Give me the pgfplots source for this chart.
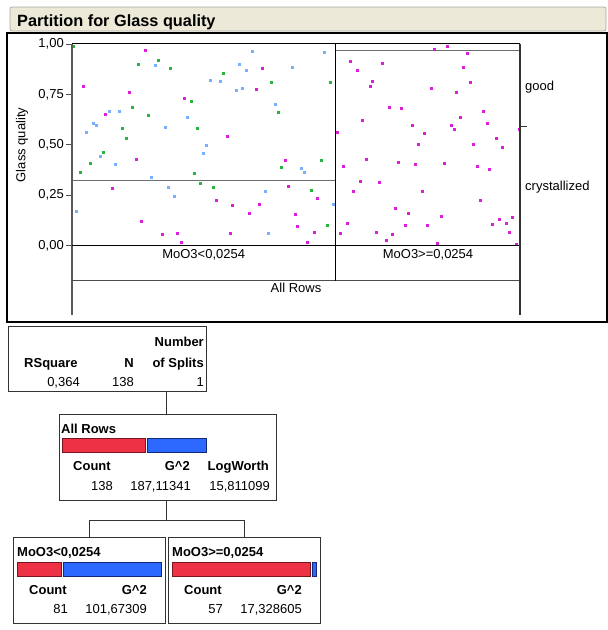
\documentclass[border=0pt]{standalone}
\usepackage{fontspec}
\setmainfont{Liberation Sans}
\usepackage{pgfplots}
\pgfplotsset{compat=1.18}
\definecolor{gm}{RGB}{40,180,60}
\definecolor{bm}{RGB}{120,175,255}
\definecolor{mm}{RGB}{220,30,220}
\definecolor{titlefill}{RGB}{236,233,216}
\definecolor{titleborder}{RGB}{170,170,160}
\definecolor{redfill}{RGB}{238,50,70}
\definecolor{redline}{RGB}{120,20,30}
\definecolor{bluefill}{RGB}{45,105,255}
\definecolor{blueline}{RGB}{20,40,120}
\definecolor{splitgray}{RGB}{110,110,110}
\newcommand\f{\fontsize{13}{15}\selectfont}
\begin{document}
\begin{tikzpicture}
\useasboundingbox (0,0) rectangle (608pt,-630pt);
\begin{axis}[
  at={(72pt,-245.5pt)}, anchor=south west,
  scale only axis, width=448pt, height=201.5pt,
  xmin=72, xmax=520, ymin=0, ymax=1,
  clip=false,
  axis line style={draw=none},
  xtick=\empty,
  ytick={0,0.25,0.5,0.75,1},
  yticklabels={{0,00},{0,25},{0,50},{0,75},{1,00}},
  ytick pos=left, ytick align=outside,
  major tick length=6pt,
  tick style={draw=black!70, line width=1pt},
  yticklabel style={font=\f, inner sep=0pt, anchor=east, xshift=-2pt},
  /pgf/number format/assume math mode=true,
]
\addplot[only marks, mark=square*, mark size=1pt, color=gm] coordinates {
(72.7,0.987)(158.3,0.919)(138,0.902)(170.3,0.879)(190.7,0.714)(132.3,0.686)(148,0.646)(122.3,0.580)(197.3,0.580)(125.7,0.535)(223.3,0.853)(271.3,0.808)(329.7,0.808)(278.3,0.664)(103.3,0.464)(89.7,0.408)(79.7,0.363)(194,0.358)(199.7,0.307)(213,0.290)(320.7,0.424)(281.3,0.391)(310.7,0.274)(327.3,0.102)
};
\addplot[only marks, mark=square*, mark size=1pt, color=bm] coordinates {
(155,0.897)(209.7,0.818)(219.7,0.813)(109,0.669)(119,0.669)(187.3,0.636)(93,0.608)(96.3,0.597)(165,0.587)(86.3,0.563)(206.3,0.498)(252.3,0.964)(324,0.959)(239,0.902)(291.7,0.886)(245.7,0.869)(235.7,0.770)(242.3,0.780)(275,0.702)(99.7,0.441)(203,0.458)(115.3,0.403)(151.3,0.341)(168.3,0.290)(174,0.246)(76.3,0.168)(300.7,0.386)(304,0.363)(264.7,0.269)(333,0.207)(268.3,0.062)
};
\addplot[only marks, mark=square*, mark size=1pt, color=mm] coordinates {
(144.7,0.969)(83,0.790)(129,0.763)(184,0.731)(105.3,0.651)(262.3,0.879)(255.7,0.775)(226.7,0.542)(135.7,0.429)(112,0.285)(216.3,0.224)(141.3,0.123)(161.7,0.057)(177.3,0.062)(180.7,0.017)(285,0.424)(288.3,0.295)(317.3,0.236)(232.3,0.201)(259,0.206)(249,0.161)(295,0.156)(297.3,0.097)(230,0.062)(314.3,0.068)(307.3,0.017)
(350,0.914)(356.7,0.869)(370,0.790)(362.3,0.624)(336.7,0.563)(434,0.975)(447.3,0.987)(466.7,0.952)(382.3,0.907)(463.3,0.886)(372.3,0.813)(430.7,0.780)(470,0.808)(456.3,0.763)(389.3,0.686)(401.3,0.681)(483.3,0.669)(459.7,0.636)(411.7,0.597)(450.7,0.597)(486.7,0.608)(424,0.558)(454,0.575)(495.7,0.535)(519,0.575)(418.3,0.501)(473.3,0.502)(343.3,0.396)(365.7,0.429)(360,0.319)(353.3,0.269)(346.7,0.112)(340,0.062)(502.3,0.490)(398.3,0.413)(415,0.403)(444,0.408)(476.7,0.396)(489,0.380)(379.3,0.314)(421.7,0.269)(480,0.224)(395,0.185)(408.3,0.161)(440.7,0.146)(499,0.130)(512.3,0.140)(405,0.102)(427.3,0.102)(492.3,0.107)(505.7,0.113)(375.7,0.068)(392.3,0.057)(509,0.068)(385.7,0.024)(437.3,0.012)(515.7,0.006)
};
\draw[splitgray, line width=1.4pt] (axis cs:72,0.3216) -- (axis cs:335,0.3216);
\draw[splitgray, line width=1.4pt] (axis cs:335,0.967) -- (axis cs:520,0.967);
\end{axis}
\begin{scope}[x=1pt,y=-1pt]
% title bar
\draw[titleborder, fill=titlefill, rounded corners=2pt, line width=0.8pt] (10,7) rectangle (606,31);
\node[anchor=base west, inner sep=0pt, font=\fontsize{16.3}{19}\selectfont\bfseries] at (17,26.5) {Partition for Glass quality};
% outer frame
\draw[black, line width=1.2pt] (7,33) rectangle (607,322);
% plot frame lines
\draw[black!65, line width=1.3pt] (72,43.5) -- (72,315);
\draw[black, line width=1.2pt] (72,43.5) -- (520,43.5);
\draw[black, line width=1.5pt] (72,245.5) -- (520,245.5);
\draw[black!70, line width=1.2pt] (72,280.5) -- (520,280.5);
\draw[black, line width=1.2pt] (335.3,43.5) -- (335.3,280.5);
\draw[black!80, line width=1.2pt] (520,43.5) -- (520,315);
\draw[black!80, line width=1pt] (520,126.6) -- (527,126.6);
\node[anchor=base, inner sep=0pt, font=\f] at (203.7,258.3) {MoO3<0,0254};
\node[anchor=base, inner sep=0pt, font=\f] at (428,258.3) {MoO3>=0,0254};
\node[anchor=base, inner sep=0pt, font=\f] at (296,292) {All Rows};
\node[anchor=base west, inner sep=0pt, font=\f] at (525,90.5) {good};
\node[anchor=base west, inner sep=0pt, font=\f] at (525,190.7) {crystallized};
\node[rotate=90, inner sep=0pt, font=\f] at (22,145) {Glass quality};
% summary box
\draw[black!80, line width=1pt] (8,326) rectangle (206,391.5);
\node[anchor=base east, inner sep=0pt, font=\f\bfseries] at (204,346.7) {Number};
\node[anchor=base west, inner sep=0pt, font=\f\bfseries] at (24,367) {RSquare};
\node[anchor=base east, inner sep=0pt, font=\f\bfseries] at (134,367) {N};
\node[anchor=base east, inner sep=0pt, font=\f\bfseries] at (204,367) {of Splits};
\node[anchor=base east, inner sep=0pt, font=\f] at (80,386.7) {0,364};
\node[anchor=base east, inner sep=0pt, font=\f] at (134,386.7) {138};
\node[anchor=base east, inner sep=0pt, font=\f] at (204,386.7) {1};
\draw[black!80, line width=1pt] (166,391.5) -- (166,414);
% All rows box
\draw[black!80, line width=1pt] (59,414) rectangle (276,500);
\node[anchor=base west, inner sep=0pt, font=\f\bfseries] at (61,433.3) {All Rows};
\draw[redline, fill=redfill, line width=0.8pt] (62,438.3) rectangle (145,452);
\draw[blueline, fill=bluefill, line width=0.8pt] (147,438.3) rectangle (206,452);
\node[anchor=base west, inner sep=0pt, font=\f\bfseries] at (73,470.7) {Count};
\node[anchor=base east, inner sep=0pt, font=\f\bfseries] at (190,470.7) {G\textasciicircum 2};
\node[anchor=base east, inner sep=0pt, font=\f\bfseries] at (269,470.7) {LogWorth};
\node[anchor=base east, inner sep=0pt, font=\f] at (113,490) {138};
\node[anchor=base east, inner sep=0pt, font=\f] at (191,490) {187,11341};
\node[anchor=base east, inner sep=0pt, font=\f] at (270,490) {15,811099};
\draw[black!80, line width=1pt] (166,500) -- (166,520) (89,537) -- (89,520) -- (244,520) -- (244,537);
% left child
\draw[black!80, line width=1pt] (13,537) rectangle (165,623);
\node[anchor=base west, inner sep=0pt, font=\f\bfseries] at (17,556) {MoO3<0,0254};
\draw[redline, fill=redfill, line width=0.8pt] (17,562) rectangle (61,576);
\draw[blueline, fill=bluefill, line width=0.8pt] (63,562) rectangle (161,576);
\node[anchor=base west, inner sep=0pt, font=\f\bfseries] at (29,594.3) {Count};
\node[anchor=base east, inner sep=0pt, font=\f\bfseries] at (147,594.3) {G\textasciicircum 2};
\node[anchor=base east, inner sep=0pt, font=\f] at (68,613.3) {81};
\node[anchor=base east, inner sep=0pt, font=\f] at (147,613.3) {101,67309};
% right child
\draw[black!80, line width=1pt] (168,537) rectangle (320,623);
\node[anchor=base west, inner sep=0pt, font=\f\bfseries] at (172,556) {MoO3>=0,0254};
\draw[redline, fill=redfill, line width=0.8pt] (172,562) rectangle (310,576);
\draw[blueline, fill=bluefill, line width=0.8pt] (312,562) rectangle (316,576);
\node[anchor=base west, inner sep=0pt, font=\f\bfseries] at (184,594.3) {Count};
\node[anchor=base east, inner sep=0pt, font=\f\bfseries] at (302,594.3) {G\textasciicircum 2};
\node[anchor=base east, inner sep=0pt, font=\f] at (223,613.3) {57};
\node[anchor=base east, inner sep=0pt, font=\f] at (302,613.3) {17,328605};
\end{scope}
\end{tikzpicture}
\end{document}
